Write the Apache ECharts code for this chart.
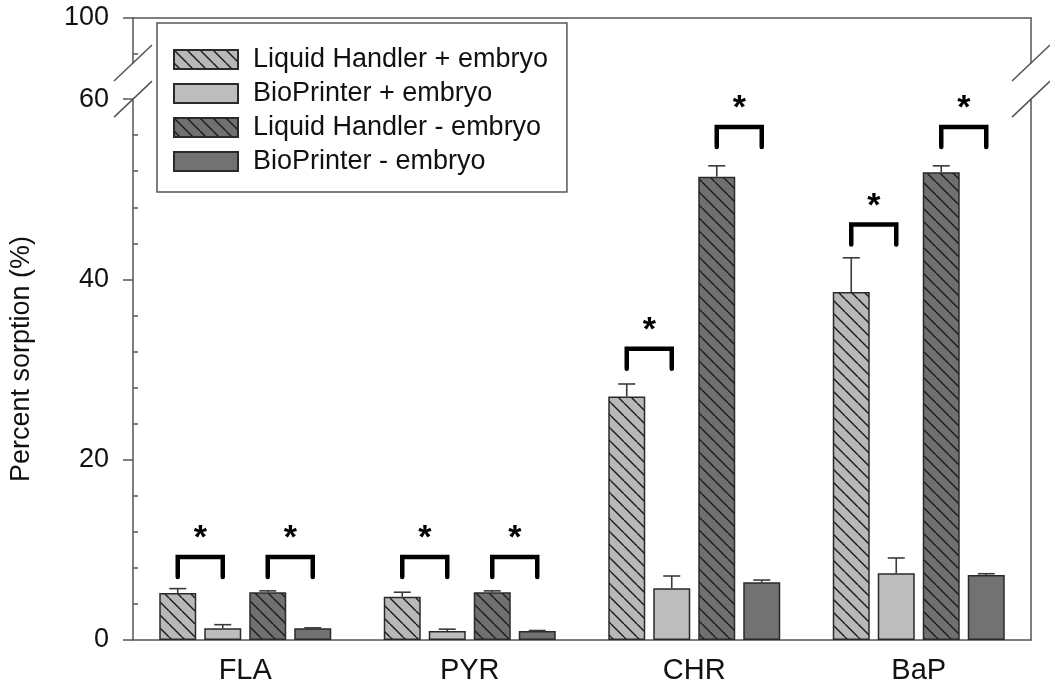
<!DOCTYPE html>
<html>
<head>
<meta charset="utf-8">
<script src="https://cdn.jsdelivr.net/npm/echarts@6/dist/echarts.min.js"></script>
<style>
html,body{margin:0;padding:0;background:#fff;}
#c{width:1050px;height:693px;}
</style>
</head>
<body>
<div id="c"></div>
<script>
// ---------- data ----------
const categories = ['FLA', 'PYR', 'CHR', 'BaP'];
const seriesNames = ['Liquid Handler + embryo', 'BioPrinter + embryo', 'Liquid Handler - embryo', 'BioPrinter - embryo'];
const lhPlus = [5.2, 4.8, 27.0, 38.6];
const lhPlusErr = [0.5, 0.5, 1.4, 3.8];
const bpPlus = [1.3, 1.0, 5.75, 7.4];
const bpPlusErr = [0.4, 0.2, 1.35, 1.7];
const lhMinus = [5.3, 5.3, 51.4, 51.9];
const lhMinusErr = [0.15, 0.15, 1.2, 0.7];
const bpMinus = [1.3, 1.0, 6.4, 7.2];
const bpMinusErr = [0.05, 0.05, 0.25, 0.15];
// significance brackets: [category index, series A, series B, bracket height]
const brackets = [
  [0, 0, 1, 9.2], [0, 2, 3, 9.2],
  [1, 0, 1, 9.2], [1, 2, 3, 9.2],
  [2, 0, 1, 32.3], [2, 2, 3, 56.9],
  [3, 0, 1, 46.1], [3, 2, 3, 56.9]
];
const yTicks = [0, 20, 40, 60, 100];
const yMinorTicks = [4, 8, 12, 16, 24, 28, 32, 36, 44, 48, 52, 56, 96];
const axisBreak = { start: 60, end: 95, gap: 4 };

// ---------- style ----------
const FONT = "'Liberation Sans', Arial, sans-serif";
const BAR_W = 37, BAR_GAP = 8, CAP = 17, LEG = 20;
const GRID_L = 133, GRID_R = 19, GRID_T = 18, GRID_B = 53;
const AXIS_C = '#555';

function hatch(fill) {
  const s = 13;
  const cv = document.createElement('canvas');
  cv.width = s; cv.height = s;
  const ctx = cv.getContext('2d');
  ctx.fillStyle = fill; ctx.fillRect(0, 0, s, s);
  ctx.strokeStyle = '#1a1a1a'; ctx.lineWidth = 1.4;
  for (let k = -1; k <= 1; k++) {
    ctx.beginPath(); ctx.moveTo(0, k * s); ctx.lineTo(s, s + k * s); ctx.stroke();
  }
  return { image: cv, repeat: 'repeat' };
}
const fills = [hatch('#b8b8b8'), '#bdbdbd', hatch('#707070'), '#727272'];
const values = [lhPlus, bpPlus, lhMinus, bpMinus];
const errs = [lhPlusErr, bpPlusErr, lhMinusErr, bpMinusErr];

const errData = [];
values.forEach((arr, s) => arr.forEach((v, i) => errData.push([i, v, errs[s][i], s])));

function off(s) { return (s - 1.5) * (BAR_W + BAR_GAP); }

const barSeries = seriesNames.map((n, s) => ({
  name: n, type: 'bar', data: values[s], barWidth: BAR_W, barGap: (BAR_GAP / BAR_W * 100) + '%',
  itemStyle: { color: fills[s], borderColor: '#2a2a2a', borderWidth: 1.5 },
  z: 2
}));

const yBase = { type: 'value', min: 0, max: 100, interval: 20, breaks: [axisBreak], breakArea: { show: false }, splitLine: { show: false } };

const chart = echarts.init(document.getElementById('c'), null, { renderer: 'canvas' });
const option = {
  animation: false,
  backgroundColor: '#fff',
  textStyle: { fontFamily: FONT },
  grid: { left: GRID_L, right: GRID_R, top: GRID_T, bottom: GRID_B, containLabel: false },
  legend: {
    data: seriesNames, orient: 'vertical', left: 157, top: 23, icon: 'rect',
    itemWidth: 64, itemHeight: 19, itemGap: 7,
    padding: [23, 19, 17, 16],
    borderColor: '#555', borderWidth: 1.5, backgroundColor: '#fff',
    textStyle: { fontSize: 27, color: '#111', fontFamily: FONT, padding: [0, 0, 0, 10] },
    selectedMode: false
  },
  xAxis: [{
    type: 'category', data: categories,
    axisLine: { lineStyle: { color: AXIS_C, width: 1.5 } },
    axisTick: { alignWithLabel: true, length: 8, lineStyle: { color: AXIS_C, width: 1.5 } },
    axisLabel: { fontSize: 29, color: '#111', margin: 16, fontFamily: FONT }
  }, {
    type: 'category', data: categories, position: 'top',
    axisLine: { onZero: false, lineStyle: { color: AXIS_C, width: 1.5 } },
    axisTick: { show: false }, axisLabel: { show: false }
  }],
  yAxis: [Object.assign({}, yBase, {
    name: 'Percent sorption (%)', nameLocation: 'middle', nameGap: 98,
    nameTextStyle: { fontSize: 27, color: '#111', fontFamily: FONT, padding: [0, 60, 0, 0] },
    axisLine: { show: true, onZero: false, lineStyle: { color: AXIS_C, width: 1.5 } },
    axisTick: { show: true, inside: false, length: 10, customValues: yTicks, lineStyle: { color: AXIS_C, width: 1.5 } },
    axisLabel: { fontSize: 27, color: '#111', margin: 24, fontFamily: FONT, customValues: yTicks }
  }), Object.assign({}, yBase, {
    position: 'right',
    axisLine: { show: true, onZero: false, lineStyle: { color: AXIS_C, width: 1.5 } },
    axisTick: { show: false }, axisLabel: { show: false }
  }), Object.assign({}, yBase, {
    position: 'left', offset: 0,
    axisLine: { show: false, onZero: false },
    axisTick: { show: true, inside: true, length: 5, customValues: yMinorTicks, lineStyle: { color: AXIS_C, width: 1.5 } },
    axisLabel: { show: false }
  })],
  series: barSeries.concat([{
    type: 'custom', name: 'err', data: errData, z: 5, silent: true,
    renderItem: function (params, api) {
      const cat = api.value(0), v = api.value(1), e = api.value(2), s = api.value(3);
      const b = api.coord([cat, v]), t = api.coord([cat, v + e]);
      const x = b[0] + off(s);
      const st = { stroke: '#3a3a3a', lineWidth: 1.6 };
      return { type: 'group', children: [
        { type: 'line', shape: { x1: x, y1: b[1], x2: x, y2: t[1] }, style: st },
        { type: 'line', shape: { x1: x - CAP / 2, y1: t[1], x2: x + CAP / 2, y2: t[1] }, style: st }
      ]};
    }
  }, {
    type: 'custom', name: 'sig', data: brackets, z: 6, silent: true,
    renderItem: function (params, api) {
      const cat = api.value(0), a = api.value(1), bb = api.value(2), h = api.value(3);
      const p = api.coord([cat, h]);
      const xa = p[0] + off(a), xb = p[0] + off(bb), y = p[1];
      return { type: 'group', children: [
        { type: 'polyline', shape: { points: [[xa, y + LEG], [xa, y], [xb, y], [xb, y + LEG]] },
          style: { stroke: '#000', lineWidth: 4.5, fill: null, lineJoin: 'miter', lineCap: 'round' } },
        { type: 'text', x: (xa + xb) / 2, y: y - 18,
          style: { text: '*', fontSize: 34, fontWeight: 'bold', fill: '#000', fontFamily: FONT,
                   align: 'center', verticalAlign: 'middle' } }
      ]};
    }
  }])
};
chart.setOption(option);

// axis-break marks on both vertical axes
const yLo = chart.convertToPixel({ yAxisIndex: 0 }, axisBreak.start);
const yHi = chart.convertToPixel({ yAxisIndex: 0 }, axisBreak.end);
const xs = [GRID_L, 1050 - GRID_R];
const gfx = [];
xs.forEach(x => {
  gfx.push({ type: 'rect', shape: { x: x - 6, y: yHi + 1, width: 12, height: yLo - yHi - 2 }, style: { fill: '#fff' }, z: 100 });
  [yHi, yLo].forEach(y => gfx.push({ type: 'line', shape: { x1: x - 19, y1: y + 18, x2: x + 19, y2: y - 18 },
    style: { stroke: AXIS_C, lineWidth: 1.5 }, z: 101 }));
});
chart.setOption({ graphic: gfx });
</script>
</body>
</html>
